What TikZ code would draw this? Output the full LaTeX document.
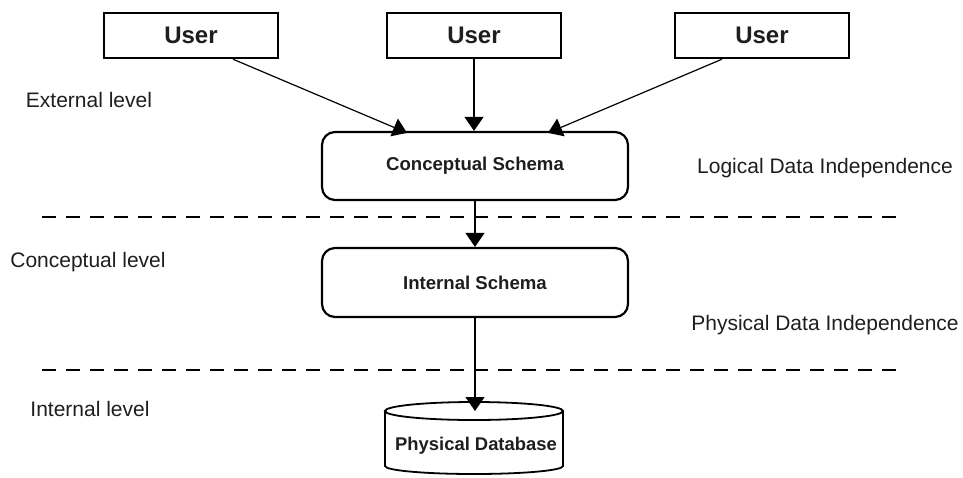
\documentclass[tikz,border=0pt]{standalone}
\usepackage{fontspec}
\setmainfont{Liberation Sans}
\usetikzlibrary{arrows.meta,calc}
\definecolor{ink}{RGB}{30,30,30}
\tikzset{
  userbox/.style={draw=black, line width=2.4pt, minimum width=174pt, minimum height=45pt,
    inner sep=0pt, font=\fontsize{24}{28}\selectfont\bfseries, text=ink},
  schemabox/.style={draw=black, line width=2.2pt, rounded corners=13pt, minimum width=306pt,
    minimum height=68pt, inner sep=0pt, font=\fontsize{18.6}{22}\selectfont\bfseries, text=ink},
  levellabel/.style={font=\fontsize{21}{25}\selectfont, text=ink, inner sep=0pt},
  arr/.style={line width=1.2pt, -{Triangle[length=14pt,width=19pt]}},
  levelline/.style={line width=1.4pt, dash pattern=on 14pt off 10pt},
}
\begin{document}
\begin{tikzpicture}[x=1pt,y=-1pt]
\useasboundingbox (0,0) rectangle (963,477);

% users
\node[userbox] (u1) at (191,35.5) {User};
\node[userbox] (u2) at (474,35.5) {User};
\node[userbox] (u3) at (762,35.5) {User};

% schemas
\node[schemabox] (cs) at (475,166) {Conceptual Schema};
\node[schemabox, minimum height=69pt] (is) at (475,282.5) {Internal Schema};

% physical database (cylinder)
\node[inner sep=0pt, font=\fontsize{18.4}{22}\selectfont\bfseries, text=ink] (db) at (476,446) {Physical Database};
\coordinate (dbtop) at (474,411);
\draw[line width=1.8pt] (dbtop) ellipse [x radius=89pt, y radius=9pt];
\draw[line width=1.8pt] ($(dbtop)+(-89,0)$) -- ++(0,55)
  arc [start angle=180, end angle=360, x radius=89pt, y radius=8pt] -- ($(dbtop)+(89,0)$);

% level separators
\coordinate (d1a) at (42,217);  \coordinate (d1b) at (897,217);
\coordinate (d2a) at (42,370);  \coordinate (d2b) at (897,370);
\draw[levelline] (d1a) -- (d1b);
\draw[levelline] (d2a) -- (d2b);

% connectors
\draw[arr] ([xshift=42pt]u1.south) -- ([xshift=-68pt,yshift=-2pt]cs.north);
\draw[arr] (u2.south) -- (cs.north -| u2.south);
\draw[arr] ([xshift=-40pt]u3.south) -- ([xshift=73pt,yshift=-2pt]cs.north);
\draw[arr] (cs.south) -- (is.north);
\draw[arr] (is.south) -- (is.south |- dbtop);

% labels
\node[levellabel] (ext) at (89,100) {External level};
\node[levellabel] (con) at (88,262) {Conceptual level};
\node[levellabel] (int) at (90,409) {Internal level};
\node[levellabel] (ldi) at (825,168) {Logical Data Independence};
\node[levellabel] (pdi) at (825,325) {Physical Data Independence};
\end{tikzpicture}
\end{document}
